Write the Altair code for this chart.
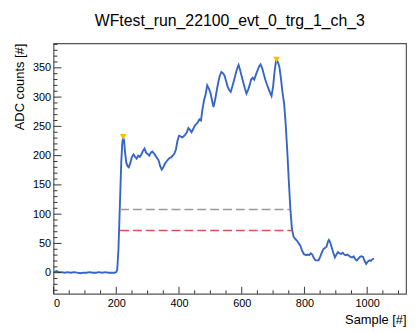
import altair as alt
import pandas as pd

# waveform samples
wave_x = [0, 5, 10, 15, 25, 35, 45, 55, 65, 75, 85, 95, 105, 115, 125, 135, 145, 155, 165, 175, 185, 195,
          200, 203, 207, 210, 213, 216, 219, 222, 225, 228, 232, 236, 240, 245, 250, 255, 260, 265, 270,
          275, 280, 285, 290, 295, 300, 305, 310, 315, 320, 325, 330, 335, 340, 345, 350, 355, 360, 365,
          370, 375, 380, 385, 390, 395, 400, 405, 410, 415, 420, 425, 430, 435, 440, 445, 450, 455, 460,
          465, 470, 475, 480, 485, 490, 495, 500, 505, 510, 515, 520, 525, 530, 535, 540, 545, 550, 555,
          560, 565, 570, 575, 580, 585, 590, 595, 600, 605, 610, 615, 620, 625, 630, 635, 640, 645, 650,
          655, 660, 665, 670, 675, 680, 685, 690, 695, 700, 705, 710, 715, 720, 725, 730, 735, 740, 745,
          750, 755, 760, 765, 770, 777, 782, 787, 792, 798, 805, 810, 815, 820, 825, 830, 835, 840, 845,
          850, 855, 860, 865, 870, 875, 878, 882, 887, 892, 897, 902, 907, 912, 917, 922, 927, 932, 937,
          942, 947, 952, 957, 962, 967, 972, 977, 982, 987, 992, 997, 1002, 1007, 1012, 1017, 1022]
wave_y = [1, 2, 3, 1, 1, 0, 1, 0, 1, 0, -1, 0, 0, 1, 0, 0, 1, 0, 1, 0, 0, 0,
          1, 5, 40, 90, 140, 190, 220, 232, 225, 205, 188, 182, 180, 188, 198, 202, 198, 195, 200,
          198, 202, 208, 212, 205, 203, 200, 205, 207, 204, 200, 196, 192, 182, 176, 180, 186, 190, 193,
          196, 197, 200, 203, 210, 225, 234, 233, 231, 233, 236, 240, 247, 244, 240, 245, 251, 254, 257,
          262, 260, 280, 295, 305, 320, 315, 308, 295, 283, 295, 310, 325, 336, 343, 341, 337, 328, 318,
          312, 309, 318, 328, 338, 348, 355, 346, 335, 325, 315, 306, 312, 320, 330, 333, 330, 338, 345,
          352, 356, 350, 340, 330, 322, 315, 308, 302, 318, 345, 364, 360, 352, 332, 308, 290, 255, 210,
          158, 110, 75, 62, 58, 54, 50, 46, 38, 32, 30, 31, 30, 33, 31, 25, 21, 21, 21,
          27, 34, 40, 42, 44, 53, 56, 52, 43, 34, 26, 31, 35, 33, 32, 34, 31, 30, 31,
          29, 27, 26, 28, 23, 21, 24, 27, 28, 27, 20, 15, 19, 21, 20, 23, 24]

# peak markers
peak_x = [222, 711]
peak_y = [232, 364]

# threshold lines
thr_x1 = [212, 212]
thr_x2 = [754, 761]
thr_y = [108, 72]
thr_name = ["grey", "red"]

# ticks
x_major = [0, 200, 400, 600, 800, 1000]
x_minor = [v for v in range(50, 1101, 50) if v % 200 != 0]
y_major = [0, 50, 100, 150, 200, 250, 300, 350]
y_minor = [v for v in range(-30, 391, 10) if v % 50 != 0]

X_DOM = [0, 1124]
Y_DOM = [-36, 392]
W, H = 356, 253
FONT = "Liberation Sans"

xs = alt.Scale(domain=X_DOM, nice=False, zero=False)
ys = alt.Scale(domain=Y_DOM, nice=False, zero=False)
x_axis = alt.Axis(values=x_major, format="d", title="Sample [#]", titleAnchor="end", ticks=False,
                  domain=False, grid=False, labelFontSize=11, titleFontSize=13, labelPadding=4,
                  titlePadding=5)
y_axis = alt.Axis(values=y_major, format="d", title="ADC counts [#]", titleAnchor="end", ticks=False,
                  domain=False, grid=False, labelFontSize=11, titleFontSize=13, labelPadding=3,
                  titlePadding=6)


def X(field="x"):
    return alt.X(f"{field}:Q", scale=xs, axis=x_axis, title="Sample [#]")


def Y(field="y"):
    return alt.Y(f"{field}:Q", scale=ys, axis=y_axis, title="ADC counts [#]")


wave = pd.DataFrame({"x": wave_x, "y": wave_y})
peaks = pd.DataFrame({"x": peak_x, "y": peak_y})
thr = pd.DataFrame({"x": thr_x1, "x2": thr_x2, "y": thr_y, "name": thr_name})

line = alt.Chart(wave).mark_line(color="#3565c8", strokeWidth=1.9).encode(x=X(), y=Y())

grey = alt.Chart(thr[thr.name == "grey"]).mark_rule(
    color="#9a9a9a", strokeWidth=1.6, strokeDash=[9, 4]).encode(x=X(), x2="x2:Q", y=Y())
red = alt.Chart(thr[thr.name == "red"]).mark_rule(
    color="#e05050", strokeWidth=1.6, strokeDash=[9, 4]).encode(x=X(), x2="x2:Q", y=Y())

marks = alt.Chart(peaks).mark_point(shape="triangle-down", filled=True, color="#f2c200",
                                     size=45, opacity=1).encode(x=X(), y=Y())

tick_color = "#333333"
xmaj = alt.Chart(pd.DataFrame({"x": x_major})).mark_rule(color=tick_color, strokeWidth=1).encode(
    x=X(), y=alt.value(H), y2=alt.value(H - 7))
xmin = alt.Chart(pd.DataFrame({"x": x_minor})).mark_rule(color=tick_color, strokeWidth=1).encode(
    x=X(), y=alt.value(H), y2=alt.value(H - 3.5))
ymaj = alt.Chart(pd.DataFrame({"y": y_major})).mark_rule(color=tick_color, strokeWidth=1).encode(
    y=Y(), x=alt.value(0), x2=alt.value(8))
ymin = alt.Chart(pd.DataFrame({"y": y_minor})).mark_rule(color=tick_color, strokeWidth=1).encode(
    y=Y(), x=alt.value(0), x2=alt.value(4))

chart = alt.layer(line, xmaj, xmin, ymaj, ymin, grey, red, marks).properties(
    width=W, height=H,
    title=alt.Title("WFtest_run_22100_evt_0_trg_1_ch_3", fontSize=16, font=FONT,
                    fontWeight="normal", anchor="middle", offset=14, color="black"),
    padding={"left": 46, "top": 34, "right": 6, "bottom": 36},
    autosize=alt.AutoSizeParams(type="none"),
).configure_view(stroke="#555555", strokeWidth=1.2).configure_axis(
    labelFont=FONT, titleFont=FONT, labelColor="black", titleColor="black",
    titleFontWeight="normal")

chart.save("out.html", embed_options={"renderer": "svg", "actions": False})
